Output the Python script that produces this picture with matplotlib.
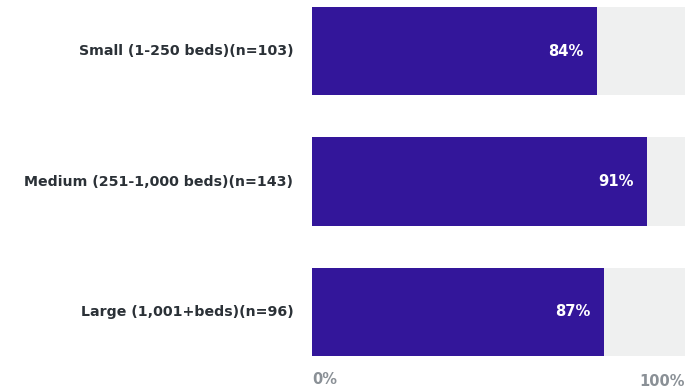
import matplotlib
matplotlib.use("Agg")
import matplotlib.pyplot as plt
from matplotlib.transforms import blended_transform_factory

categories = ["Small (1-250 beds)(n=103)", "Medium (251-1,000 beds)(n=143)", "Large (1,001+beds)(n=96)"]
bar_values = [76.4, 89.8, 78.3]          # bar lengths as drawn in the picture
value_labels = ["84%", "91%", "87%"]     # labels printed on the bars
full_scale = [100, 100, 100]
axis_labels = ["0%", "100%"]

purple = "#33169a"
track = "#eff0f0"
text_dark = "#2b3137"
text_gray = "#8a9096"

fig = plt.figure(figsize=(6.98, 3.90), dpi=100)
ax = fig.add_axes([312/698, 34/390, 373/698, 349/390])

ypos = list(range(len(categories)))
h = 0.675
ax.barh(ypos, full_scale, height=h, color=track, zorder=1)
ax.barh(ypos, bar_values, height=h, color=purple, zorder=2)

ax.set_xlim(0, 100)
ax.set_ylim(len(categories) - 1 + 0.3375, -0.3375)
ax.axis("off")

for y, v, lab, cat in zip(ypos, bar_values, value_labels, categories):
    ax.text(v - 3.6, y, lab, ha="right", va="center", color="white",
            fontsize=10.6, fontweight="bold", family="DejaVu Sans")
    ax.text(-5, y, cat, ha="right", va="center", color=text_dark,
            fontsize=10.2, fontweight="bold", family="DejaVu Sans")

tr = blended_transform_factory(ax.transData, fig.transFigure)
ax.text(0, 1 - 380/390, axis_labels[0], transform=tr, ha="left", va="center",
        color=text_gray, fontsize=10.5, fontweight="bold")
ax.text(100, 1 - 382/390, axis_labels[1], transform=tr, ha="right", va="center",
        color=text_gray, fontsize=10.5, fontweight="bold")

fig.savefig("out.png", dpi=100)
